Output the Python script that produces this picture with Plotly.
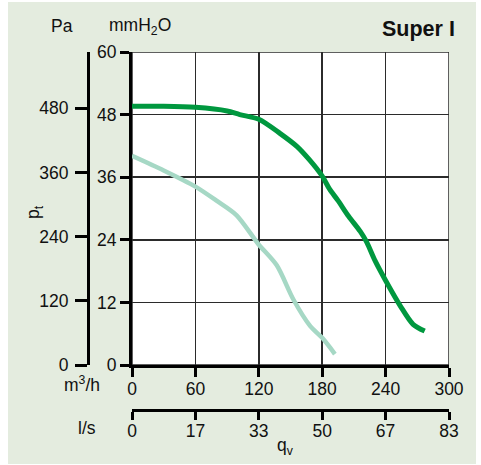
import plotly.graph_objects as go

# ---- data ----
q_dark = [0, 30, 60, 90, 102, 120, 140, 156, 168, 180, 187, 195, 205, 216, 222, 230, 240, 254, 266, 277]
p_dark = [49.6, 49.6, 49.4, 48.7, 48.0, 47.1, 44.4, 41.9, 39.3, 36.2, 33.7, 31.5, 28.5, 25.6, 23.6, 20.0, 16.2, 11.3, 7.8, 6.5]
q_light = [0, 30, 60, 80, 99, 119.5, 137, 152.6, 168.5, 180, 192]
p_light = [40.1, 37.3, 34.2, 31.5, 28.7, 23.2, 19.1, 12.6, 7.5, 5.2, 2.1]

x_ticks = [0, 60, 120, 180, 240, 300]
y_ticks = [0, 12, 24, 36, 48, 60]
pa_ticks = [0, 120, 240, 360, 480]
ls_labels = ["0", "17", "33", "50", "67", "83"]
ls_vals = [v / 3.6 for v in x_ticks]

DARK = "#00983f"
LIGHT = "#a6d8c5"
BG = "#e4ecdf"
FONT = "Liberation Sans, Arial, sans-serif"
TS = 17.5

W, H = 481, 465
ML, MR, MT, MB = 88, 32, 52, 55
PW, PH = W - ML - MR, H - MT - MB


def xp(px):
    return (px - ML) / PW


def yp(py):
    return (H - MB - py) / PH


fig = go.Figure()
fig.add_trace(go.Scatter(x=q_light, y=p_light, mode="lines",
                         line=dict(color=LIGHT, width=4.5, shape="spline", smoothing=0.8),
                         hoverinfo="skip"))
fig.add_trace(go.Scatter(x=q_dark, y=p_dark, mode="lines",
                         line=dict(color=DARK, width=5, shape="spline", smoothing=0.8),
                         hoverinfo="skip"))
# invisible traces to activate secondary axes
fig.add_trace(go.Scatter(x=[None], y=[None], xaxis="x2", yaxis="y", showlegend=False))
fig.add_trace(go.Scatter(x=[None], y=[None], xaxis="x", yaxis="y2", showlegend=False))

xdom0 = xp(132)
ydom0 = yp(365)

tickfont = dict(family=FONT, size=TS, color="#111")

fig.update_layout(
    width=W, height=H,
    margin=dict(l=ML, r=MR, t=MT, b=MB, pad=0),
    paper_bgcolor="white",
    plot_bgcolor="white",
    showlegend=False,
    hovermode=False,
    font=dict(family=FONT, size=TS, color="#111"),
    xaxis=dict(domain=[xdom0, 1], range=[0, 300], tickvals=x_ticks, tickfont=tickfont,
               showgrid=True, gridcolor="#2b2b2b", gridwidth=1.5,
               showline=True, linecolor="black", linewidth=3,
               ticks="outside", ticklen=9, tickwidth=3, tickcolor="black",
               ticklabelstandoff=-3,
               zeroline=False, anchor="y", fixedrange=True),
    yaxis=dict(domain=[ydom0, 1], range=[0, 60], tickvals=y_ticks, tickfont=tickfont,
               showgrid=True, gridcolor="#2b2b2b", gridwidth=1.5,
               showline=True, linecolor="black", linewidth=3,
               ticks="outside", ticklen=9, tickwidth=3, tickcolor="black",
               zeroline=False, anchor="x", fixedrange=True),
    xaxis2=dict(overlaying="x", anchor="free", position=0, side="bottom",
                range=[0, 300 / 3.6], tickvals=ls_vals, ticktext=ls_labels, tickfont=tickfont,
                showgrid=False, showline=True, linecolor="black", linewidth=3,
                ticks="outside", ticklen=8, tickwidth=3, tickcolor="black",
                ticklabelstandoff=-4,
                zeroline=False, fixedrange=True),
    yaxis2=dict(overlaying="y", anchor="free", position=0, side="left",
                range=[0, 585], tickvals=pa_ticks, tickfont=tickfont,
                showgrid=False, showline=True, linecolor="black", linewidth=3,
                ticks="outside", ticklen=12, tickwidth=3, tickcolor="black",
                ticklabelstandoff=3,
                zeroline=False, fixedrange=True),
    shapes=[
        dict(type="rect", xref="paper", yref="paper", layer="below",
             x0=xp(8), x1=xp(476), y0=yp(464), y1=yp(2),
             fillcolor=BG, line=dict(width=0)),
        dict(type="rect", xref="x", yref="y", layer="below",
             x0=0, x1=300, y0=0, y1=60,
             fillcolor="white", line=dict(color="#2b2b2b", width=1.5)),
    ],
)

ann = [
    ("Pa", 62, 26, TS, 0),
    ("mmH<sub>2</sub>O", 140, 26, TS, 0),
    ("<b>Super I</b>", 418, 29, 21.5, 0),
    ("m<sup>3</sup>/h", 82, 384, TS, 0),
    ("l/s", 87, 428, TS, 0),
    ("q<sub>v</sub>", 285, 446, TS, 0),
    ("p<sub>t</sub>", 34, 212, TS, -90),
]
for text, x, y, size, ang in ann:
    fig.add_annotation(text=text, x=xp(x), y=yp(y), xref="paper", yref="paper",
                       showarrow=False, xanchor="center", yanchor="middle",
                       textangle=ang, font=dict(family=FONT, size=size, color="#111"))

fig.write_html("out.html",
               config={"displayModeBar": False, "staticPlot": True},
               post_script="document.body.style.margin='0px';document.body.style.padding='0px';")
